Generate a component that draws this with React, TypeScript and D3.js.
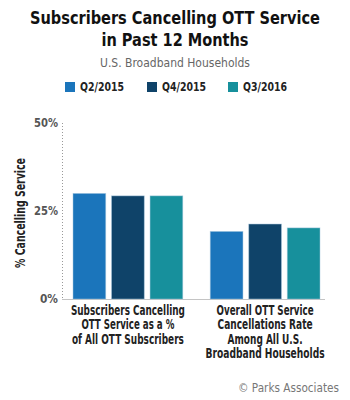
import * as d3 from 'd3'

const categories = [
  ['Subscribers Cancelling', 'OTT Service as a %', 'of All OTT Subscribers'],
  ['Overall OTT Service', 'Cancellations Rate', 'Among All U.S.', 'Broadband Households'],
]
// measured line widths of the condensed labels in the reference
const categoryWidths = [
  [114, 93, 112],
  [97, 95, 75, 119],
]
const series = ['Q2/2015', 'Q4/2015', 'Q3/2016']
const values = [
  [30, 29.3, 29.3],
  [19.2, 21.3, 20.2],
]
const yTicks = [0, 25, 50]
const colors = ['#1b75bb', '#0f4369', '#17909c']

const font = '"DejaVu Sans Condensed", "DejaVu Sans", sans-serif'

// squeeze text to the reference's condensed width
function T(props: any) {
  const { w, children, ...rest } = props
  return (
    <text {...rest} textLength={w} lengthAdjust="spacingAndGlyphs">
      {children}
    </text>
  )
}

export default function App() {
  const width = 350
  const height = 400
  const y = d3.scaleLinear().domain([0, 50]).range([299, 123])
  const x0 = d3.scaleBand<number>()
    .domain(categories.map((_, i) => i))
    .range([73, 320])
    .paddingInner(0.2)
  const x1 = d3.scaleBand<string>()
    .domain(series)
    .range([0, x0.bandwidth()])
    .paddingInner(0.15)

  return (
    <svg width={width} height={height} style={{ position: 'absolute', left: 0, top: 0, fontFamily: font }}>
      <rect width={width} height={height} fill="#fff" />
      <T x={175} y={24} w={290} textAnchor="middle" fontSize={18.5} fontWeight="bold" fill="#111">
        Subscribers Cancelling OTT Service
      </T>
      <T x={175} y={46} w={147} textAnchor="middle" fontSize={18.5} fontWeight="bold" fill="#111">
        in Past 12 Months
      </T>
      <T x={175} y={67} w={150} textAnchor="middle" fontSize={11.5} fill="#666">
        U.S. Broadband Households
      </T>

      {/* legend */}
      {series.map((s, i) => {
        const lx = [65, 147, 228][i]
        return (
          <g key={s}>
            <rect x={lx} y={82} width={10} height={10} fill={colors[i]} />
            <T x={lx + 15} y={91} w={44} fontSize={12} fontWeight="bold" fill="#222">{s}</T>
          </g>
        )
      })}

      {/* axis */}
      <line x1={62.5} x2={62.5} y1={y(50)} y2={y(0)} stroke="#999" strokeWidth={1} strokeDasharray="1,2" />
      <line x1={62} x2={325} y1={y(0) + 0.5} y2={y(0) + 0.5} stroke="#c4c4c4" strokeWidth={1} />
      {yTicks.map(t => (
        <T key={t} x={58} y={y(t) + 4} w={t === 0 ? 18 : 24} textAnchor="end" fontSize={11.5} fontWeight="bold" fill="#555">
          {t}%
        </T>
      ))}
      <T
        transform={`translate(25, ${(y(0) + y(50)) / 2 + 2}) rotate(-90)`}
        w={110} textAnchor="middle" fontSize={13.5} fontWeight="bold" fill="#222"
      >
        % Cancelling Service
      </T>

      {/* bars */}
      {values.map((row, gi) => (
        <g key={gi} transform={`translate(${x0(gi)},0)`}>
          {row.map((v, si) => (
            <rect
              key={si}
              x={x1(series[si])}
              y={y(v)}
              width={x1.bandwidth()}
              height={y(0) - y(v)}
              fill={colors[si]}
              stroke="#a9c8e0"
              strokeOpacity={0.6}
              strokeWidth={0.8}
            />
          ))}
        </g>
      ))}

      {/* category labels */}
      {categories.map((lines, gi) =>
        lines.map((l, li) => (
          <T
            key={gi + '-' + li}
            x={(x0(gi) ?? 0) + x0.bandwidth() / 2}
            y={315 + li * 14.3}
            w={categoryWidths[gi][li]}
            textAnchor="middle" fontSize={14} fontWeight="bold" fill="#222"
          >
            {l}
          </T>
        ))
      )}

      <T x={339} y={392} w={101} textAnchor="end" fontSize={12} fill="#777">
        © Parks Associates
      </T>
    </svg>
  )
}
